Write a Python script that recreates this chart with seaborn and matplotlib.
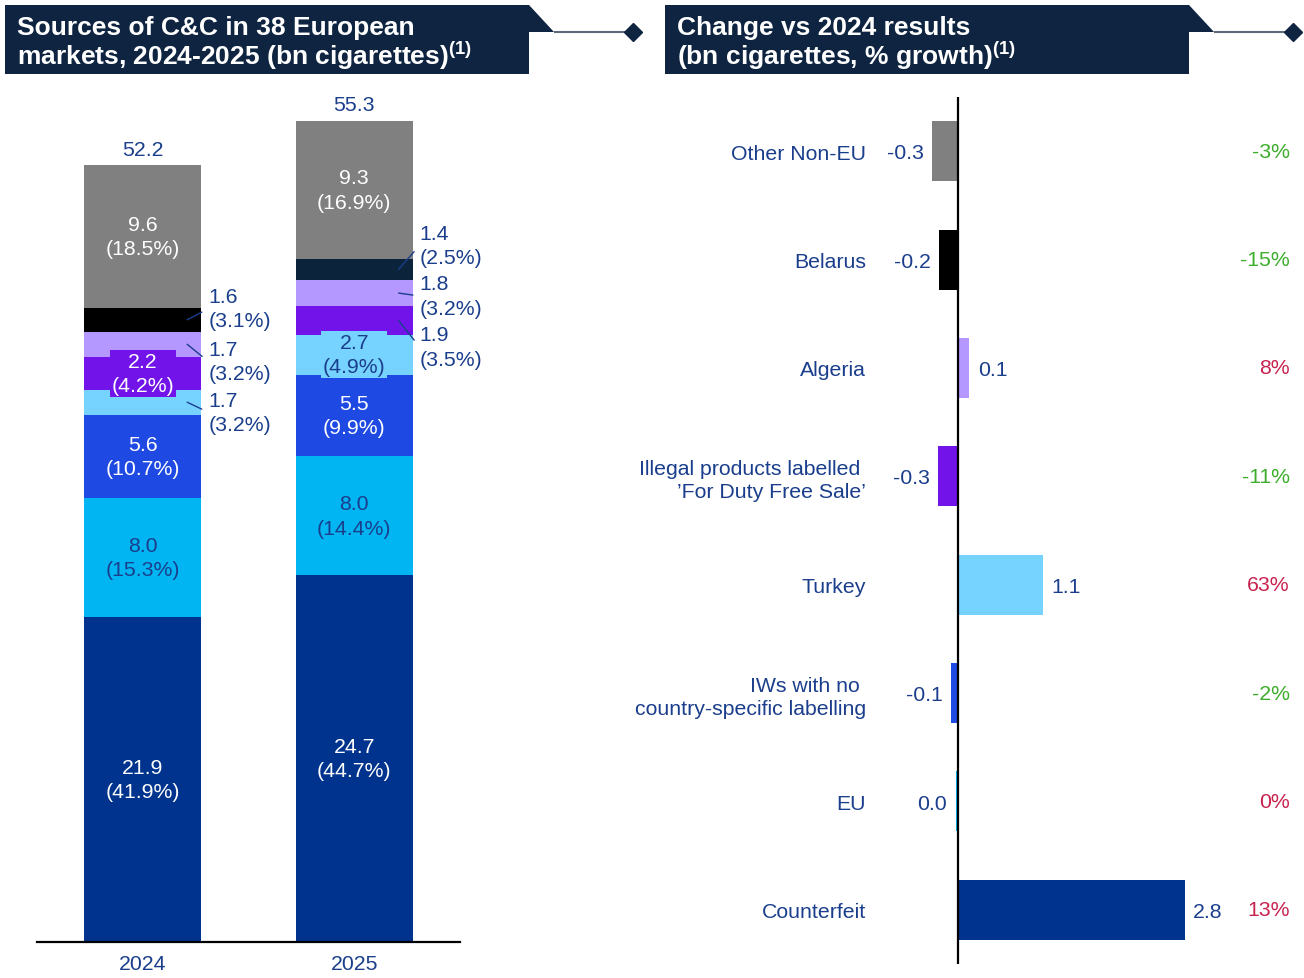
import numpy as np
import pandas as pd
import matplotlib
matplotlib.use("Agg")
import matplotlib.pyplot as plt
import seaborn as sns
from matplotlib.patches import Polygon
import matplotlib.transforms as mtransforms

# ---------------- data ----------------
years = ["2024", "2025"]
series = ["Counterfeit", "EU", "IWs with no country-specific labelling", "Turkey",
          "Illegal products labelled 'For Duty Free Sale'", "Algeria", "Belarus", "Other Non-EU"]
vol_2024 = [21.9, 8.0, 5.6, 1.7, 2.2, 1.7, 1.6, 9.6]
vol_2025 = [24.7, 8.0, 5.5, 2.7, 1.9, 1.8, 1.4, 9.3]
share_2024 = ["41.9%", "15.3%", "10.7%", "3.2%", "4.2%", "3.2%", "3.1%", "18.5%"]
share_2025 = ["44.7%", "14.4%", "9.9%", "4.9%", "3.5%", "3.2%", "2.5%", "16.9%"]
totals = [52.2, 55.3]

change_categories = ["Other Non-EU", "Belarus", "Algeria",
                     "Illegal products labelled \n\u2019For Duty Free Sale\u2019", "Turkey",
                     "IWs with no \ncountry-specific labelling", "EU", "Counterfeit"]
change_bn = [-0.32, -0.23, 0.14, -0.25, 1.05, -0.09, -0.03, 2.80]
change_labels = ["-0.3", "-0.2", "0.1", "-0.3", "1.1", "-0.1", "0.0", "2.8"]
growth_pct = [-3, -15, 8, -11, 63, -2, 0, 13]

# ---------------- style ----------------
NAVY_TXT = "#1A3E8C"
TITLE_BG = "#0E2440"
colors_2024 = ["#00338D", "#00B5F1", "#1E49E2", "#76D2FF", "#7213EA", "#B497FF", "#000000", "#808080"]
colors_2025 = ["#00338D", "#00B5F1", "#1E49E2", "#76D2FF", "#7213EA", "#B497FF", "#0C233C", "#808080"]
change_colors = ["#808080", "#000000", "#B497FF", "#7213EA", "#76D2FF", "#1E49E2", "#00B5F1", "#00338D"]
GREEN = "#3DAE2B"
RED = "#C8234F"

sns.set_style("white")
plt.rcParams["font.family"] = ["Liberation Sans", "DejaVu Sans"]
plt.rcParams["mathtext.fontset"] = "custom"
plt.rcParams["mathtext.rm"] = "Liberation Sans:bold"
plt.rcParams["mathtext.bf"] = "Liberation Sans:bold"
plt.rcParams["mathtext.it"] = "Liberation Sans:bold:italic"

W, H = 1304, 979
fig = plt.figure(figsize=(W / 100, H / 100), dpi=100)
FS = 15.3
LS = 1.36

def px2pt(p):
    return p * 0.72

# ---------- title overlay ----------
ax0 = fig.add_axes([0, 0, 1, 1])
ax0.set_xlim(0, W)
ax0.set_ylim(H, 0)
ax0.axis("off")

def title_box(x0, x1, lines):
    poly = [(x0, 6), (x1, 6), (x1 + 25, 33), (x1, 33), (x1, 75), (x0, 75)]
    ax0.add_patch(Polygon(poly, closed=True, fc=TITLE_BG, ec="none"))
    ax0.plot([x1 + 25, x1 + 98], [33, 33], color="#5E6B7C", lw=1.5, solid_capstyle="butt")
    ax0.plot([x1 + 104], [33], marker="D", ms=9, color=TITLE_BG, mec=TITLE_BG)
    ax0.text(x0 + 12, 35, lines[0], color="white", fontsize=19, fontweight="bold", va="baseline")
    ax0.text(x0 + 12, 65, lines[1], color="white", fontsize=19, fontweight="bold", va="baseline")

title_box(5, 529, ["Sources of C&C in 38 European",
                   "markets, 2024-2025 (bn cigarettes)$^{\\mathrm{(1)}}$"])
title_box(665, 1189, ["Change vs 2024 results",
                      "(bn cigarettes, % growth)$^{\\mathrm{(1)}}$"])

# ---------- left stacked bars ----------
axL = fig.add_axes([37 / W, (H - 943) / H, 423 / W, (943 - 96) / H])
bar_w = 0.552
bottoms = np.zeros(2)
mids = np.zeros((2, len(series)))
for k, s in enumerate(series):
    vals = np.array([vol_2024[k], vol_2025[k]])
    sns.barplot(x=years, y=vals, color=colors_2024[k], bottom=bottoms, width=bar_w,
                saturation=1, errorbar=None, linewidth=0, ax=axL)
    cont = axL.containers[-1]
    for j, p in enumerate(cont.patches):
        p.set_facecolor([colors_2024, colors_2025][j][k])
        p.set_edgecolor("none")
    mids[:, k] = bottoms + vals / 2
    bottoms = bottoms + vals

axL.set_xlim(-0.5, 1.5)
axL.set_ylim(0, (943 - 96) / 14.85)
axL.set_yticks([])
axL.set_xlabel("")
axL.set_ylabel("")
for sp in ["left", "right", "top"]:
    axL.spines[sp].set_visible(False)
axL.spines["bottom"].set_color("black")
axL.spines["bottom"].set_linewidth(1.6)
axL.tick_params(axis="x", length=0, pad=8.5, labelsize=FS, labelcolor=NAVY_TXT)

# label modes per (year, series)
# in_w: white inside, in_n: navy inside, box_w/box_n: boxed inside, out: leader label
modes = [
    ["in_w", "in_n", "in_w", "out", "box_w", "out", "out", "in_w"],
    ["in_w", "in_n", "in_w", "box_n", "out", "out", "out", "in_w"],
]
out_dy_px = {(0, 3): -10, (0, 5): -17, (0, 6): 11, (1, 4): -26.5, (1, 5): -3, (1, 6): 24}
vols = [vol_2024, vol_2025]
shares = [share_2024, share_2025]
cols = [colors_2024, colors_2025]
for j in range(2):
    for k in range(len(series)):
        txt = f"{vols[j][k]:.1f}\n({shares[j][k]})"
        m = modes[j][k]
        y = mids[j, k]
        if m.startswith("in"):
            axL.text(j, y, txt, ha="center", va="center", fontsize=FS, linespacing=LS,
                     color="white" if m == "in_w" else NAVY_TXT)
        elif m.startswith("box"):
            axL.text(j, y, txt, ha="center", va="center", fontsize=FS, linespacing=LS,
                     color="white" if m == "box_w" else NAVY_TXT,
                     bbox=dict(boxstyle="square,pad=0.08", fc=cols[j][k], ec="none"))
        else:
            x0 = j + bar_w / 2 - 14 / 212
            axL.annotate(txt, xy=(x0, y), xytext=(px2pt(21), px2pt(out_dy_px[(j, k)])),
                         textcoords="offset points", ha="left", va="center", fontsize=FS,
                         linespacing=LS, color=NAVY_TXT,
                         arrowprops=dict(arrowstyle="-", color=NAVY_TXT, lw=1,
                                         shrinkA=2.5, shrinkB=0, relpos=(0, 0.5)))
    axL.annotate(f"{totals[j]:.1f}", xy=(j, bottoms[j]), xytext=(0, px2pt(16)),
                 textcoords="offset points", ha="center", va="center", fontsize=FS,
                 color=NAVY_TXT)

# ---------- right horizontal bars ----------
axR = fig.add_axes([872 / W, (H - 965) / H, 428 / W, 867 / H])
sns.barplot(x=change_bn, y=change_categories, hue=change_categories, palette=change_colors,
            orient="h", width=0.554, saturation=1, errorbar=None, legend=False,
            linewidth=0, ax=axR)
axR.set_ylim(7.5, -0.5)
axR.set_xlim((872 - 958) / 81, (1300 - 958) / 81)
axR.axvline(0, color="black", lw=1.6, zorder=5)
for sp in axR.spines.values():
    sp.set_visible(False)
axR.set_xticks([])
axR.set_xlabel("")
axR.set_ylabel("")
axR.tick_params(axis="y", length=0, pad=px2pt(6), labelsize=FS, labelcolor=NAVY_TXT)
for t in axR.get_yticklabels():
    t.set_linespacing(1.25)

trans_pct = mtransforms.blended_transform_factory(axR.transAxes, axR.transData)
for i, (v, lbl, g) in enumerate(zip(change_bn, change_labels, growth_pct)):
    sign = 1 if v > 0 else -1
    axR.annotate(lbl, xy=(v, i), xytext=(sign * 6, -1.2), textcoords="offset points",
                 ha="left" if sign > 0 else "right", va="center", fontsize=FS,
                 color=NAVY_TXT)
    axR.text((1290 - 872) / 428, i, f"{g}%", transform=trans_pct, ha="right",
             va="center", fontsize=FS, color=GREEN if g < 0 else RED)

fig.savefig("out.png", dpi=100)
